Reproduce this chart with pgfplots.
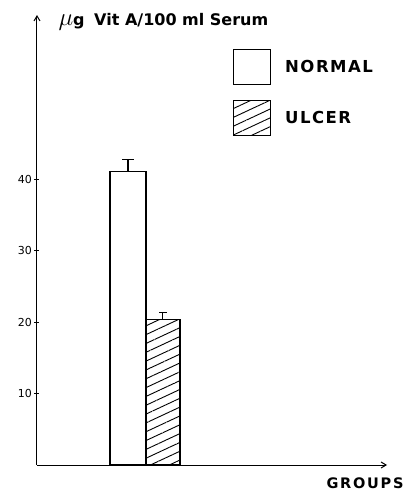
\documentclass[border=0pt]{standalone}
\usepackage{fontspec}
\setmainfont{DejaVu Sans}
\newfontfamily\lblfont[LetterSpace=9]{DejaVu Sans}
\newfontfamily\grpfont[LetterSpace=12]{DejaVu Sans}
\usepackage{pgfplots}
\pgfplotsset{compat=1.18}
\usetikzlibrary{patterns.meta,arrows.meta}
\begin{document}
\begin{tikzpicture}
\path[use as bounding box] (0pt,0pt) rectangle (409pt,491pt);
\begin{axis}[
  at={(37pt,26pt)}, anchor=south west,
  scale only axis, width=350pt, height=450pt,
  xmin=0, xmax=350, ymin=0, ymax=63,
  axis x line=bottom, axis y line=left,
  axis line style={line width=1pt, -{Straight Barb[length=5pt,width=6pt]}},
  xtick=\empty,
  ytick={10,20,30,40},
  tick style={line width=0.9pt, black},
  major tick length=5pt, tick align=center,
  yticklabel style={font=\fontsize{11}{13}\selectfont, xshift=1pt},
  /pgf/number format/assume math mode=true,
  legend style={draw=none, fill=none, at={(axis cs:196,58.2)}, anchor=north west,
    inner sep=0pt, row sep=15pt, font=\lblfont\bfseries\fontsize{16.5}{18}\selectfont,
    /tikz/every odd column/.append style={column sep=12pt}},
  legend cell align=left,
  legend image code/.code={\draw[#1,line width=1pt] (0pt,-17.5pt) rectangle (37pt,17.5pt);},
  clip=false,
]
\addplot[ybar, bar width=36, bar shift=0pt, fill=white, draw=black, line width=1.2pt,
  error bars/.cd, y dir=plus, y explicit,
  error bar style={line width=1.2pt},
  error mark options={rotate=90, mark size=6pt, line width=1.2pt}]
  coordinates {(91,41.1) +- (0,1.7)};
\addlegendentry{NORMAL}
\addplot[ybar, bar width=34, bar shift=0pt, draw=black, line width=1.2pt,
  pattern={Lines[angle=25, distance=8pt, line width=0.9pt]},
  error bars/.cd, y dir=plus, y explicit,
  error bar style={line width=1pt},
  error mark options={rotate=90, mark size=4pt, line width=1pt}]
  coordinates {(126,20.4) +- (0,0.9)};
\addlegendentry{ULCER}
\end{axis}
\node[anchor=west, font=\bfseries\fontsize{16}{18}\selectfont] at (55pt,469pt) {{\fontsize{24}{26}\selectfont$\mu$}g\hspace{0.6em}Vit A/100 ml Serum};
\node[anchor=east, font=\grpfont\bfseries\fontsize{14.5}{16}\selectfont] at (407pt,8pt) {GROUPS};
\end{tikzpicture}
\end{document}
